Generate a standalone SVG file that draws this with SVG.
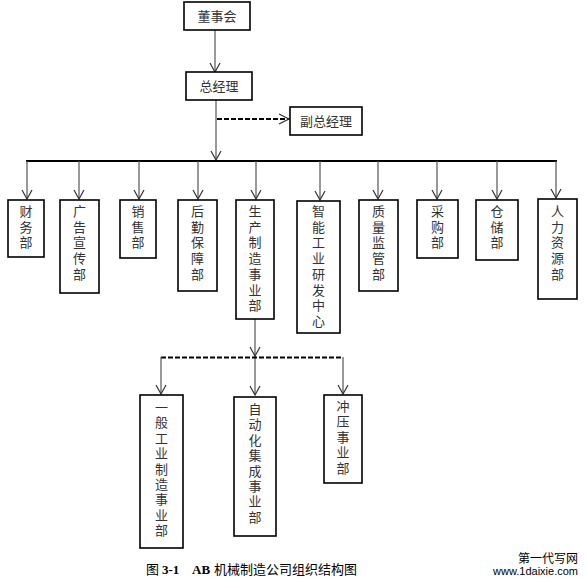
<svg xmlns="http://www.w3.org/2000/svg" width="587" height="583" viewBox="0 0 587 583">
<style>
.box{fill:#fff;stroke:#000;stroke-width:1.6}
.t{font-family:"Noto Sans CJK SC","Noto Sans",sans-serif;font-size:13px;fill:#333;text-anchor:middle}
.v{font-family:"Noto Sans CJK SC","Noto Sans",sans-serif;font-size:13px;fill:#333;writing-mode:vertical-rl;letter-spacing:2.7px}
.v2{letter-spacing:2.4px}
.ln{fill:none;stroke:#555;stroke-width:1.2}
.bar{fill:none;stroke:#000;stroke-width:2.2}
.dash{fill:none;stroke:#000;stroke-width:2;stroke-dasharray:5 2}
</style>
<defs>
<marker id="arr" viewBox="0 0 12 12" refX="10" refY="6" markerWidth="12" markerHeight="12" markerUnits="userSpaceOnUse" orient="auto">
<polyline points="1,1 10,6 1,11" fill="none" stroke="#333" stroke-width="1.2"/>
</marker>
</defs>
<rect width="587" height="583" fill="#fff"/>
<g id="connectors">
<line class="ln" x1="215" y1="30" x2="215" y2="72" marker-end="url(#arr)"/>
<line class="ln" x1="216" y1="100" x2="216" y2="160" marker-end="url(#arr)"/>
<line class="dash" x1="217" y1="119" x2="289" y2="119"/>
<polyline points="279,114 289,119 279,124" fill="none" stroke="#333" stroke-width="1.2"/>
<line class="bar" x1="26" y1="161" x2="557" y2="161"/>
<line class="ln" x1="27" y1="161" x2="27" y2="199" marker-end="url(#arr)"/>
<line class="ln" x1="79" y1="161" x2="79" y2="199" marker-end="url(#arr)"/>
<line class="ln" x1="139" y1="161" x2="139" y2="199" marker-end="url(#arr)"/>
<line class="ln" x1="198" y1="161" x2="198" y2="199" marker-end="url(#arr)"/>
<line class="ln" x1="256" y1="161" x2="256" y2="199" marker-end="url(#arr)"/>
<line class="ln" x1="320" y1="161" x2="320" y2="200" marker-end="url(#arr)"/>
<line class="ln" x1="378" y1="161" x2="378" y2="199" marker-end="url(#arr)"/>
<line class="ln" x1="437" y1="161" x2="437" y2="199" marker-end="url(#arr)"/>
<line class="ln" x1="497" y1="161" x2="497" y2="199" marker-end="url(#arr)"/>
<line class="ln" x1="556" y1="161" x2="556" y2="198" marker-end="url(#arr)"/>
<line class="ln" x1="255" y1="319" x2="255" y2="395" marker-end="url(#arr)"/>
<polyline points="250,347 255,356 260,347" fill="none" stroke="#333" stroke-width="1.2"/>
<line class="dash" x1="161" y1="357.5" x2="343" y2="357.5"/>
<line class="ln" x1="161" y1="357" x2="161" y2="394" marker-end="url(#arr)"/>
<line class="ln" x1="343" y1="357" x2="343" y2="394" marker-end="url(#arr)"/>
</g>
<g id="n-board"><rect class="box" x="184" y="2" width="66" height="28"/><text class="t" x="217" y="21">董事会</text></g>
<g id="n-gm"><rect class="box" x="186" y="72" width="66" height="28"/><text class="t" x="219" y="91">总经理</text></g>
<g id="n-dgm"><rect class="box" x="290" y="107" width="72" height="28"/><text class="t" x="326" y="126">副总经理</text></g>
<g id="n-fin"><rect class="box" x="8" y="200" width="36" height="57"/><text class="v" x="26" y="205"><tspan>财</tspan><tspan>务</tspan><tspan>部</tspan></text></g>
<g id="n-ad"><rect class="box" x="60" y="200" width="39" height="93"/><text class="v" x="79.5" y="205"><tspan>广</tspan><tspan>告</tspan><tspan>宣</tspan><tspan>传</tspan><tspan>部</tspan></text></g>
<g id="n-sales"><rect class="box" x="120" y="200" width="36" height="58"/><text class="v" x="138" y="205"><tspan>销</tspan><tspan>售</tspan><tspan>部</tspan></text></g>
<g id="n-log"><rect class="box" x="178" y="200" width="39" height="91"/><text class="v" x="197.5" y="205"><tspan>后</tspan><tspan>勤</tspan><tspan>保</tspan><tspan>障</tspan><tspan>部</tspan></text></g>
<g id="n-prod"><rect class="box" x="236" y="200" width="38" height="119"/><text class="v" x="255" y="205"><tspan>生</tspan><tspan>产</tspan><tspan>制</tspan><tspan>造</tspan><tspan>事</tspan><tspan>业</tspan><tspan>部</tspan></text></g>
<g id="n-rd"><rect class="box" x="297" y="201" width="43" height="132"/><text class="v" x="318.5" y="205"><tspan>智</tspan><tspan>能</tspan><tspan>工</tspan><tspan>业</tspan><tspan>研</tspan><tspan>发</tspan><tspan>中</tspan><tspan>心</tspan></text></g>
<g id="n-qa"><rect class="box" x="359" y="200" width="39" height="91"/><text class="v" x="378.5" y="205"><tspan>质</tspan><tspan>量</tspan><tspan>监</tspan><tspan>管</tspan><tspan>部</tspan></text></g>
<g id="n-pur"><rect class="box" x="417" y="200" width="41" height="58"/><text class="v" x="437.5" y="205"><tspan>采</tspan><tspan>购</tspan><tspan>部</tspan></text></g>
<g id="n-wh"><rect class="box" x="476" y="200" width="42" height="60"/><text class="v" x="497" y="205"><tspan>仓</tspan><tspan>储</tspan><tspan>部</tspan></text></g>
<g id="n-hr"><rect class="box" x="538" y="199" width="39" height="100"/><text class="v" x="557.5" y="205"><tspan>人</tspan><tspan>力</tspan><tspan>资</tspan><tspan>源</tspan><tspan>部</tspan></text></g>
<g id="n-gen"><rect class="box" x="140" y="395" width="43" height="153"/><text class="v v2" x="161.5" y="401"><tspan>一</tspan><tspan>般</tspan><tspan>工</tspan><tspan>业</tspan><tspan>制</tspan><tspan>造</tspan><tspan>事</tspan><tspan>业</tspan><tspan>部</tspan></text></g>
<g id="n-auto"><rect class="box" x="234" y="397" width="42" height="139"/><text class="v v2" x="255" y="403"><tspan>自</tspan><tspan>动</tspan><tspan>化</tspan><tspan>集</tspan><tspan>成</tspan><tspan>事</tspan><tspan>业</tspan><tspan>部</tspan></text></g>
<g id="n-press"><rect class="box" x="324" y="395" width="38" height="88"/><text class="v v2" x="343" y="400"><tspan>冲</tspan><tspan>压</tspan><tspan>事</tspan><tspan>业</tspan><tspan>部</tspan></text></g>
<g id="caption"><text y="574" style="font-family:'Liberation Serif','Noto Sans CJK SC',serif;font-size:13px;fill:#000"><tspan x="146">图</tspan><tspan x="162" font-weight="bold">3-1</tspan><tspan x="192" font-weight="bold">AB</tspan><tspan x="214">机械制造公司组织结构图</tspan></text></g>
<g id="watermark"><text x="578" y="563" style="font-family:'Noto Sans CJK SC',sans-serif;font-size:12px;fill:#000;text-anchor:end">第一代写网</text><text x="578" y="575" style="font-family:'Liberation Sans',sans-serif;font-size:11px;fill:#000;text-anchor:end">www.1daixie.com</text></g>
</svg>
